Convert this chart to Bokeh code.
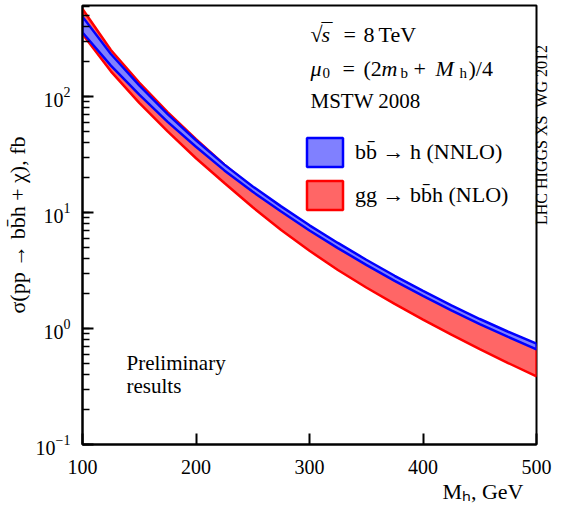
from math import pi
from bokeh.plotting import figure
from bokeh.models import Label, Legend, LegendItem, FixedTicker, LogTicker, LogAxis, LinearAxis, Title
from bokeh.embed import file_html
from bokeh.resources import INLINE

# ---- data ----
mass = [100, 125, 150, 175, 200, 225, 250, 275, 300, 325, 350, 375, 400, 425, 450, 475, 500]
bbh_nnlo_hi = [489, 233, 125, 70.5, 42.0, 25.9, 16.8, 11.3, 7.76, 5.47, 3.92, 2.85, 2.11, 1.585, 1.208, 0.938, 0.740]
bbh_nnlo_lo = [357, 185, 104, 60.5, 36.9, 23.1, 15.1, 10.2, 7.01, 4.94, 3.54, 2.58, 1.91, 1.432, 1.091, 0.847, 0.662]
ggbbh_nlo_hi = [570, 252, 132, 73.5, 43.0, 25.9, 16.3, 10.8, 7.35, 5.15, 3.70, 2.68, 1.99, 1.49, 1.13, 0.88, 0.69]
ggbbh_nlo_lo = [345, 165, 88.3, 50.2, 29.4, 18.0, 11.1, 7.08, 4.68, 3.20, 2.26, 1.63, 1.195, 0.886, 0.665, 0.504, 0.387]
x_ticks = [100, 200, 300, 400, 500]
label_bb = "bb\u0304 \u2192 h (NNLO)"
label_gg = "gg \u2192 bb\u0304h (NLO)"
x_title = "M\u2095, GeV"
y_title = "\u03c3(pp \u2192 bb\u0304h + \u03c7), fb"
side_note = "LHC HIGGS XS\u00a0\u00a0WG 2012"

FONT = "Liberation Serif"

p = figure(width=563, height=510, y_axis_type="log",
           x_range=(100, 500), y_range=(0.1, 610),
           output_backend="svg", toolbar_location=None,
           min_border_left=82, min_border_right=27,
           min_border_top=5, min_border_bottom=66)
p.grid.visible = False
p.outline_line_color = "black"
p.outline_line_width = 2
p.outline_line_alpha = 1

r_red = p.patch(x=mass + mass[::-1], y=ggbbh_nlo_hi + ggbbh_nlo_lo[::-1],
                fill_color="#ff6666", line_color="#ff0000", line_width=2.5)
r_blue = p.patch(x=mass + mass[::-1], y=bbh_nnlo_hi + bbh_nnlo_lo[::-1],
                 fill_color="#8080ff", line_color="#0000ff", line_width=2.5)

for ax in (p.xaxis[0], p.yaxis[0]):
    ax.axis_line_width = 2
    ax.axis_line_color = "black"
    ax.major_tick_in = 11
    ax.major_tick_out = 0
    ax.major_tick_line_width = 2
    ax.minor_tick_in = 7
    ax.minor_tick_out = 0
    ax.minor_tick_line_width = 1.5
    ax.major_label_text_font = FONT
    ax.major_label_text_font_size = "20px"
    ax.major_label_text_color = "black"
    ax.axis_label_text_font = FONT
    ax.axis_label_text_font_size = "22px"
    ax.axis_label_text_font_style = "normal"
    ax.axis_label_text_color = "black"

p.xaxis.ticker = FixedTicker(ticks=x_ticks, minor_ticks=[])
p.xaxis.major_label_standoff = 15
p.yaxis.ticker = LogTicker(num_minor_ticks=10)
p.yaxis.major_label_standoff = 12
p.yaxis.axis_label = y_title
p.yaxis.axis_label_standoff = 3

props = LinearAxis.properties()

# x axis title, right aligned below the axis
p.add_layout(Title(text=x_title, align="right", standoff=0, offset=13,
                   text_font=FONT, text_font_size="22px", text_font_style="normal",
                   text_color="black"), "below")

# right-hand vertical note (reads bottom to top) as the label of a tick-less axis;
# its bounds keep the label in the upper part of the right margin
note_axis = LogAxis(ticker=FixedTicker(ticks=[], minor_ticks=[]), bounds=(41, 410),
                    axis_label=side_note, axis_label_standoff=5,
                    axis_label_text_font=FONT, axis_label_text_font_size="16px",
                    axis_label_text_font_style="normal", axis_label_text_color="black",
                    major_tick_in=0, major_tick_out=0, minor_tick_in=0, minor_tick_out=0,
                    major_label_text_font_size="0px", axis_line_color=None)
if "axis_label_orientation" in props:
    note_axis.axis_label_orientation = pi / 2
p.add_layout(note_axis, "right")

legend = Legend(items=[LegendItem(label=label_bb, renderers=[r_blue]),
                       LegendItem(label=label_gg, renderers=[r_red])],
                location=(220, 231), orientation="vertical",
                glyph_width=45, glyph_height=36, spacing=7, label_standoff=8,
                padding=0, margin=0, border_line_alpha=0, background_fill_alpha=0,
                label_text_font=FONT, label_text_font_size="22px",
                label_text_color="black", label_text_baseline="middle")
p.add_layout(legend)


def lab(text, x, y, size="22px", style="normal", angle=0.0):
    p.add_layout(Label(text=text, x=x, y=y, x_units="screen", y_units="screen",
                       text_font=FONT, text_font_size=size, text_font_style=style,
                       text_color="black", text_align="left",
                       text_baseline="alphabetic", angle=angle))


# top right info text (positions relative to the frame, px)
y1 = 410
lab("\u221a", 228, y1)
lab("s", 239, y1, style="italic")
lab("\u00af", 239, y1 + 4)
lab("=", 261, y1)
lab("8", 281, y1)
lab("TeV", 296, y1)

y2 = 376
lab("\u03bc", 228, y2, style="italic")
lab("0", 240, y2 - 4, size="15px")
lab("=", 260, y2)
lab("(2", 281, y2)
lab("m", 299, y2, style="italic")
lab("b", 318, y2 - 4, size="15px")
lab("+", 331, y2)
lab("M", 353, y2, style="italic")
lab("h", 377, y2 - 4, size="15px")
lab(")/4", 386, y2)

lab("MSTW 2008", 228, 344, size="21px")

lab("Preliminary", 44, 82, size="21px")
lab("results", 44, 59, size="21px")

open("out.html", "w").write(file_html(p, INLINE))
